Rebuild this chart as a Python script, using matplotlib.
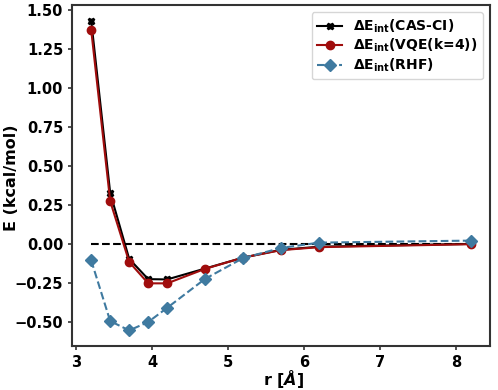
import matplotlib
matplotlib.use("Agg")
import matplotlib.pyplot as plt

r = [3.2, 3.45, 3.7, 3.95, 4.2, 4.7, 5.2, 5.7, 6.2, 8.2]
e_cas = [1.43, 0.325, -0.098, -0.228, -0.23, -0.16, -0.09, -0.04, -0.02, -0.002]
e_vqe = [1.37, 0.272, -0.118, -0.255, -0.255, -0.162, -0.09, -0.042, -0.023, -0.004]
e_rhf = [-0.108, -0.497, -0.557, -0.503, -0.412, -0.226, -0.093, -0.028, 0.006, 0.019]

plt.rcParams['font.weight'] = 'bold'
plt.rcParams['axes.labelweight'] = 'bold'
plt.rcParams['mathtext.default'] = 'bf'

fig, ax = plt.subplots(figsize=(4.98, 3.9), dpi=100)

ax.plot([r[0], r[-1]], [0, 0], 'k--', lw=1.5)
ax.plot(r, e_cas, color='black', marker='X', ms=5, lw=1.5,
        label=r'$\Delta E_{int}$(CAS-CI)')
ax.plot(r, e_vqe, color='#a00d0d', marker='o', ms=6, lw=1.5,
        label=r'$\Delta E_{int}$(VQE(k=4))')
ax.plot(r, e_rhf, color='#3f7aa0', marker='D', ms=6, lw=1.5, ls='--',
        label=r'$\Delta E_{int}$(RHF)')

ax.set_xlabel(r'r [$\mathit{\AA}$]', fontsize=11.5)
ax.set_ylabel('E (kcal/mol)', fontsize=11.5)
ax.xaxis.set_label_coords(0.505, -0.066)
ax.yaxis.set_label_coords(-0.128, 0.493)
ax.tick_params(labelsize=10.5, width=1.2, length=3, color='#333333')
for s in ax.spines.values():
    s.set_linewidth(1.5)
    s.set_color('#333333')
ax.legend(fontsize=10, loc='upper right', labelspacing=0.15,
          handlelength=1.8, borderpad=0.4)

fig.subplots_adjust(left=0.145, right=0.984, top=0.987, bottom=0.113)
fig.savefig('out.png')
